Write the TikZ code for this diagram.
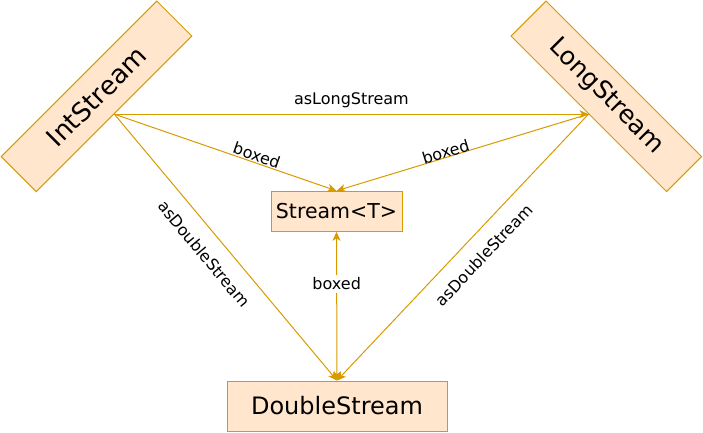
\documentclass[tikz,border=0pt]{standalone}
\usepackage{fontspec}
\setmainfont{DejaVu Sans}
\usetikzlibrary{arrows.meta}
\definecolor{strokec}{HTML}{D79B00}
\definecolor{boxfill}{HTML}{FFE6CC}
\tikzset{
  tipc/.tip={Stealth[length=9pt,width=8pt,inset=2.5pt]},
}
\begin{document}
\begin{tikzpicture}[x=1pt,y=-1pt,
  box/.style={draw=strokec, fill=boxfill, line width=1pt, inner sep=0pt},
  conn/.style={draw=strokec, line width=1pt, -tipc},
  lbl/.style={font=\fontsize{16}{18}\selectfont, text=black, inner sep=1pt}]
\path[use as bounding box] (0,0) rectangle (703,432);
\node[box, minimum width=220pt, minimum height=49.5pt, rotate=45, font=\fontsize{26}{30}\selectfont] (int) at (96.5,96.3) {IntStream};
\node[box, minimum width=220pt, minimum height=49.5pt, rotate=-45, font=\fontsize{25}{30}\selectfont] (long) at (606.3,96.3) {LongStream};
\node[box, minimum width=131pt, minimum height=40pt, font=\fontsize{20.5}{24}\selectfont] (st) at (336.5,211.3) {Stream<T>};
\node[box, minimum width=220pt, minimum height=50pt, font=\fontsize{24}{28}\selectfont] (dbl) at (337,406) {DoubleStream};

\draw[conn] (int.south) -- node[lbl, above=5pt] {asLongStream} (long.south);
\draw[conn] (int.south) -- node[lbl, sloped, above, pos=0.63] {boxed} (st.north);
\draw[conn] (long.south) -- node[lbl, sloped, above=-2pt, pos=0.56] {boxed} (st.north);
\draw[conn] (int.south) -- node[lbl, sloped, below=13pt, pos=0.475] {asDoubleStream} (dbl.north);
\draw[conn] (long.south) -- node[lbl, sloped, below=13pt, pos=0.475] {asDoubleStream} (dbl.north);
\draw[conn, tipc-tipc] (dbl.north) -- node[lbl, fill=white, inner sep=3pt, pos=0.65] {boxed} (st.south);
\end{tikzpicture}
\end{document}
